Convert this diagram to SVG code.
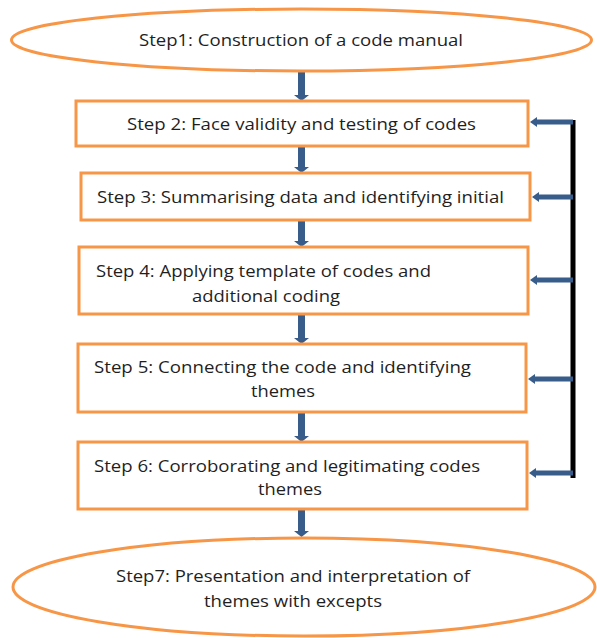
<svg xmlns="http://www.w3.org/2000/svg" width="597" height="638" viewBox="0 0 597 638">
<defs>
<style>
.node{fill:#ffffff;stroke:#F79646;stroke-width:3}
.t{font-family:"Open Sans","Liberation Sans",Arial,sans-serif;font-size:17px;fill:#1f1f1f}
.m{text-anchor:middle}
.down{fill:#385D8A}
.side{stroke:#385D8A;stroke-width:5;fill:none}
.bar{stroke:#000000;stroke-width:5;fill:none}
</style>
</defs>
<rect width="597" height="638" fill="#ffffff"/>
<g id="connectors">
<path class="down" d="M298,71 h7 v24 h4 l-7.5,6 l-7.5,-6 h4 z"/>
<path class="down" d="M298,146 h7 v21 h4 l-7.5,6 l-7.5,-6 h4 z"/>
<path class="down" d="M298,220 h7 v21 h4 l-7.5,6 l-7.5,-6 h4 z"/>
<path class="down" d="M298,314 h7 v24 h4 l-7.5,6 l-7.5,-6 h4 z"/>
<path class="down" d="M298,412 h7 v24 h4 l-7.5,6 l-7.5,-6 h4 z"/>
<path class="down" d="M298,509 h7 v22 h4 l-7.5,6 l-7.5,-6 h4 z"/>
<line class="bar" x1="573" y1="120" x2="573" y2="478"/>
<g id="side-arrows">
<line class="side" x1="573" y1="122" x2="536" y2="122"/>
<path class="down" d="M530,122 l7,-5 v10 z"/>
<line class="side" x1="573" y1="197" x2="538" y2="197"/>
<path class="down" d="M532,197 l7,-5 v10 z"/>
<line class="side" x1="573" y1="280" x2="536" y2="280"/>
<path class="down" d="M530,280 l7,-5 v10 z"/>
<line class="side" x1="573" y1="379" x2="534" y2="379"/>
<path class="down" d="M528,379 l7,-5 v10 z"/>
<line class="side" x1="573" y1="473" x2="535" y2="473"/>
<path class="down" d="M529,473 l7,-5 v10 z"/>
</g>
</g>
<g id="step1">
<ellipse class="node" cx="301.5" cy="40" rx="290" ry="31"/>
<text class="t m" x="301" y="46" textLength="324" lengthAdjust="spacingAndGlyphs">Step1: Construction of a code manual</text>
</g>
<g id="step2">
<rect class="node" x="76" y="101" width="452" height="45"/>
<text class="t m" x="301.5" y="130" textLength="349" lengthAdjust="spacingAndGlyphs">Step 2: Face validity and testing of codes</text>
</g>
<g id="step3">
<rect class="node" x="81" y="173" width="449" height="47"/>
<text class="t" x="97" y="203" textLength="407" lengthAdjust="spacingAndGlyphs">Step 3: Summarising data and identifying initial</text>
</g>
<g id="step4">
<rect class="node" x="79" y="247" width="449" height="67"/>
<text class="t" x="96" y="277" textLength="335" lengthAdjust="spacingAndGlyphs">Step 4: Applying template of codes and</text>
<text class="t" x="192" y="302" textLength="148" lengthAdjust="spacingAndGlyphs">additional coding</text>
</g>
<g id="step5">
<rect class="node" x="78" y="344" width="448" height="68"/>
<text class="t" x="94" y="373" textLength="377" lengthAdjust="spacingAndGlyphs">Step 5: Connecting the code and identifying</text>
<text class="t" x="251" y="397" textLength="64" lengthAdjust="spacingAndGlyphs">themes</text>
</g>
<g id="step6">
<rect class="node" x="78" y="442" width="449" height="67"/>
<text class="t" x="94" y="472" textLength="386" lengthAdjust="spacingAndGlyphs">Step 6: Corroborating and legitimating codes</text>
<text class="t" x="258" y="495" textLength="64" lengthAdjust="spacingAndGlyphs">themes</text>
</g>
<g id="step7">
<ellipse class="node" cx="304" cy="587" rx="291" ry="49"/>
<text class="t m" x="293" y="582" textLength="354" lengthAdjust="spacingAndGlyphs">Step7: Presentation and interpretation of</text>
<text class="t m" x="293" y="607" textLength="178" lengthAdjust="spacingAndGlyphs">themes with excepts</text>
</g>
</svg>
